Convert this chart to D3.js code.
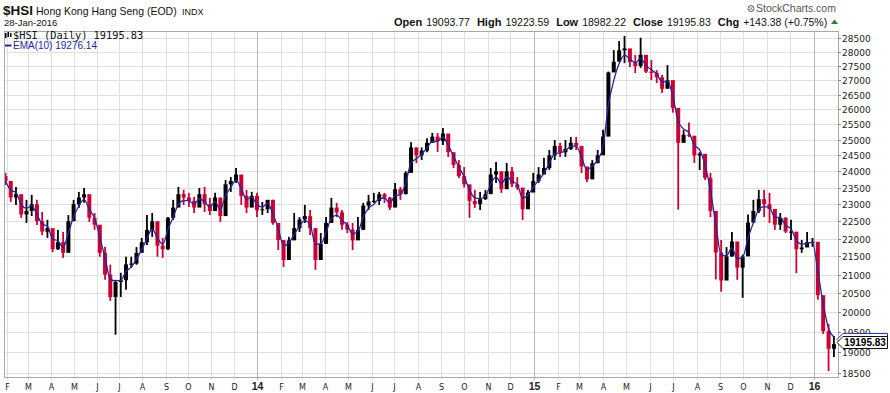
<!DOCTYPE html>
<html><head><meta charset="utf-8">
<script src="https://cdn.jsdelivr.net/npm/d3@7"></script>
<style>body{margin:0;background:#fff}svg{display:block}</style>
</head><body><svg id="c" width="890" height="393"></svg>
<script>
// ---------- DATA (weekly bars) ----------
const symbol = "$HSI";
const fullName = "Hong Kong Hang Seng (EOD)";
const exchange = "INDX";
const asOf = "28-Jan-2016";
const quote = {open: "19093.77", high: "19223.59", low: "18982.22", close: "19195.83", chg: "+143.38 (+0.75%)"};
const lastClose = 19195.83;
const emaLabel = "19276.14";
const emaLast = 19276.14;
const firstWeekMonday = "2013-01-28";
const firstOpen = 23850;

const highs = [
23950,23640,23520,23280,23130,23280,23130,22770,22540,22250,
22250,22190,22680,23130,23370,23490,23130,22740,22340,21770,
21270,20860,21050,21490,21490,21760,22020,22680,22740,22160,
22020,22620,23130,23520,23430,23340,23220,23490,23520,23190,
23340,23130,23730,23820,24100,23820,23430,23370,23340,23070,
23130,23130,22250,21760,22050,22740,22620,22980,22830,21900,
22160,22620,23190,23040,22830,22480,22450,22620,23040,23280,
23340,23370,23340,23220,23640,23520,24000,24920,24750,24750,
25050,25220,25220,25380,25090,24580,24350,24130,23430,23430,
23370,23430,24100,24290,23820,24260,24130,23820,23130,23430,
23950,24130,24420,24670,24990,24900,24990,25090,25090,24580,
24130,24350,24670,25320,27300,28070,28400,28590,27890,27890,
28520,27820,27710,27350,27180,27530,26480,26000,25320,25560,
24990,24600,24260,23950,22000,21960,21760,22190,21760,21550,
22700,23130,23430,23430,23340,22830,22740,22620,22540,22050,
21960,22190,22020,21770,20400,19700,19400];
const lows = [
23580,23070,22980,22600,22450,22650,22390,22100,22020,21620,
21680,21460,21820,22620,22890,23040,22480,22250,21490,20860,
20300,19430,20400,20590,21180,21270,21680,21820,22050,21490,
21460,21680,22540,22920,22980,22920,22740,22980,22770,22680,
22890,22480,22680,23370,23640,22980,22740,22980,22620,22680,
22740,22400,21680,21210,21490,22250,22190,22450,22100,21130,
21680,21960,22540,22620,22250,22160,21680,22050,22620,22830,
23040,22980,23040,22830,23130,23130,23300,24350,24260,24350,
24600,24900,24610,24830,24450,24100,23790,23500,22600,22890,
22830,23130,23640,23640,23340,23730,23520,23430,22540,23130,
23430,23640,23950,24040,24350,24450,24450,24670,24670,23950,
23670,23820,24260,24670,25200,27360,27800,27600,27460,27250,
27430,27250,27000,26900,26560,27000,25890,22840,24900,25090,
24260,24040,23730,22620,20870,20540,21400,21490,20860,20380,
21680,22540,22740,22620,22450,22250,22250,22160,21960,21040,
21600,21770,21770,20330,19450,18540,18880];
const closes = [
23700,23200,23300,22700,22800,23000,22500,22200,22300,21700,
21900,21600,22500,23000,23200,23300,22600,22400,21600,21000,
20400,20800,20850,21280,21300,21600,21900,22250,22500,21800,
21700,22600,22900,23300,23200,23100,22900,23300,23000,22800,
23200,22650,23600,23700,23900,23250,22900,23250,22820,22850,
23130,22450,21960,21400,21950,22300,22550,22650,22300,21400,
21850,22450,22900,22760,22400,22260,21950,22250,22960,23080,
23100,23300,23200,22900,23450,23300,23950,24750,24500,24650,
24900,25100,24950,25200,24600,24200,23850,23600,23100,23000,
23150,23300,23900,24000,23450,24000,23600,23500,22850,23350,
23700,23900,24100,24500,24800,24600,24700,24900,24800,24150,
23750,24250,24500,25100,27270,27650,28060,28130,27640,27500,
27900,27300,27250,27100,26700,27000,26050,24900,25160,25130,
24500,24550,23800,22800,21610,20840,21500,21920,21190,21500,
22460,22800,23150,23000,22860,22400,22600,22200,22200,21700,
21750,21900,21910,20450,19520,19080,19195.83];

const yTickValues = [18500,19000,19500,20000,20500,21000,21500,22000,22500,23000,23500,24000,24500,25000,25500,26000,26500,27000,27500,28000,28500];
const monthLabels = ["F","M","A","M","J","J","A","S","O","N","D",
  "14","F","M","A","M","J","J","A","S","O","N","D",
  "15","F","M","A","M","J","J","A","S","O","N","D","16"];
// a 10-day EMA expressed in weekly bars (~2.6 weeks)
const EMA_WEEKS = 2.6;

// ---------- LAYOUT ----------
const svg = d3.select("#c");
const L = 4, R = 838, T = 31, B = 377;
const red = "#cc0033", blue = "#26269e";

const pd = d3.timeParse("%Y-%m-%d");
const x = d3.scaleTime()
  .domain([pd("2013-01-28"), pd("2013-02-01"), pd("2014-01-01"), pd("2015-01-01"), pd("2016-01-01"), pd("2016-01-28")])
  .range([4, 7, 257, 534, 814, 834.7]);
const y = d3.scaleLog().domain([18500, 28500]).range([372.7, 38.3]);

const mondays = d3.timeMonday.range(pd(firstWeekMonday), pd("2016-01-29"));
const bars = closes.map((c, i) => ({
  date: d3.timeDay.offset(mondays[i], 2),
  high: highs[i], low: lows[i], close: c,
  open: i ? closes[i - 1] : firstOpen
}));
const alpha = 2 / (EMA_WEEKS + 1);
let e = null;
bars.forEach(b => { e = e === null ? b.close : e + alpha * (b.close - e); b.ema = e; });

// grid
const g = svg.append("g");
yTickValues.forEach(v => {
  const yy = Math.round(y(v)) + 0.5;
  g.append("line").attr("x1", L).attr("x2", R).attr("y1", yy).attr("y2", yy)
    .attr("stroke", "#e0e0e0");
});
const months = d3.timeMonth.range(pd("2013-02-01"), pd("2016-01-02"));
months.forEach((m, i) => {
  const xx = Math.round(x(m)) + 0.5;
  const isYear = m.getMonth() === 0;
  g.append("line").attr("x1", xx).attr("x2", xx).attr("y1", T).attr("y2", B + 3)
    .attr("stroke", isYear ? "#b4b4b4" : "#e0e0e0");
  g.append("text").attr("x", xx).attr("y", 390).attr("text-anchor", "middle")
    .attr("font-family", isYear ? "Liberation Sans, Arial" : "DejaVu Sans, Verdana")
    .attr("font-weight", isYear ? "bold" : "normal")
    .attr("font-size", isYear ? 10.5 : 8).attr("fill", "#222").text(monthLabels[i]);
});

// frame
svg.append("rect").attr("x", L + 0.5).attr("y", T + 0.5).attr("width", R - L).attr("height", B - T)
  .attr("fill", "none").attr("stroke", "#a8a8a8");

// y axis labels
yTickValues.forEach(v => {
  const yy = Math.round(y(v)) + 0.5;
  svg.append("line").attr("x1", R).attr("x2", R + 3).attr("y1", yy).attr("y2", yy).attr("stroke", "#888");
  svg.append("text").attr("x", R + 4).attr("y", yy + 3.5)
    .attr("font-family", "DejaVu Sans, Verdana").attr("font-size", 9).attr("fill", "#222").text(v);
});

// candles
svg.append("clipPath").attr("id", "clip").append("rect")
  .attr("x", L + 1).attr("y", T + 1).attr("width", R - L - 1).attr("height", B - T - 1);
const cg = svg.append("g").attr("clip-path", "url(#clip)");
bars.forEach(b => {
  const cx = x(b.date);
  const col = b.close >= b.open ? "#000" : red;
  cg.append("line").attr("x1", cx).attr("x2", cx).attr("y1", y(b.high)).attr("y2", y(b.low))
    .attr("stroke", col).attr("stroke-width", 1.8);
  const y1 = y(Math.max(b.open, b.close)), y2 = y(Math.min(b.open, b.close));
  cg.append("rect").attr("x", cx - 2).attr("width", 4)
    .attr("y", y1).attr("height", Math.max(1, y2 - y1)).attr("fill", col);
});
cg.append("path").datum(bars)
  .attr("d", d3.line().x(d => x(d.date)).y(d => y(d.ema)).curve(d3.curveMonotoneX))
  .attr("fill", "none").attr("stroke", blue).attr("stroke-width", 1.3);

// header
const hdr = svg.append("g").attr("font-family", "Liberation Sans, Arial");
hdr.append("text").attr("x", 3).attr("y", 15).attr("font-weight", "bold").attr("font-size", 13.5).attr("fill", "#111").text(symbol);
hdr.append("text").attr("x", 36).attr("y", 15).attr("font-size", 10.5).attr("fill", "#111").text(fullName);
hdr.append("text").attr("x", 182).attr("y", 15).attr("font-size", 9).attr("fill", "#111").text(exchange);
hdr.append("text").attr("x", 4).attr("y", 26).attr("font-size", 9.5).attr("fill", "#111").text(asOf);

// quote line
const pieces = [["Open", 1], [quote.open, 0], ["High", 1], [quote.high, 0], ["Low", 1], [quote.low, 0],
  ["Close", 1], [quote.close, 0], ["Chg", 1], [quote.chg, 0]];
let qx = 394;
pieces.forEach(([t, bold]) => {
  const el = hdr.append("text").attr("x", qx).attr("y", 26)
    .attr("font-size", bold ? 11 : 10.5).attr("font-weight", bold ? "bold" : "normal").attr("fill", "#111").text(t);
  qx += el.node().getComputedTextLength() + (bold ? 4 : 7);
});
svg.append("path").attr("d", "M831,24 L838,24 L834.5,19.5 Z").attr("fill", "#2e7d32");

// logo
svg.append("circle").attr("cx", 751).attr("cy", 8.5).attr("r", 3).attr("fill", "none").attr("stroke", "#666").attr("stroke-width", 1);
svg.append("path").attr("d", "M749,6.5 L753,10.5 M753,6.5 L749,10.5").attr("stroke", "#666").attr("stroke-width", 0.8);
hdr.append("text").attr("x", 756).attr("y", 12).attr("font-size", 10.5).attr("fill", "#555").text("StockCharts.com");

// legend inside chart
svg.append("rect").attr("x", 5).attr("y", 33).attr("width", 1.5).attr("height", 5).attr("fill", "#000");
svg.append("rect").attr("x", 7.5).attr("y", 32).attr("width", 1.5).attr("height", 5).attr("fill", "#000");
svg.append("rect").attr("x", 10).attr("y", 33).attr("width", 1.5).attr("height", 4).attr("fill", "#000");
svg.append("text").attr("x", 13).attr("y", 38.5).attr("font-family", "DejaVu Sans Mono, monospace")
  .attr("font-size", 10.3).attr("fill", "#111").text(symbol + " (Daily) " + lastClose.toFixed(2));
svg.append("line").attr("x1", 5).attr("x2", 11.5).attr("y1", 45.5).attr("y2", 45.5).attr("stroke", blue).attr("stroke-width", 2);
svg.append("text").attr("x", 13).attr("y", 49).attr("font-family", "Liberation Sans, Arial")
  .attr("font-size", 10).attr("fill", blue).text("EMA(10) " + emaLabel);

// price tags
const ey = y(emaLast) - 1.5, cyy = 342.5;
svg.append("path").attr("d", `M837,${ey} L843,${ey - 6} L887.5,${ey - 6} L887.5,${ey + 6} L843,${ey + 6} Z`)
  .attr("fill", "#fff").attr("stroke", blue);
svg.append("path").attr("d", `M837,${cyy} L843,${cyy - 6} L887.5,${cyy - 6} L887.5,${cyy + 6} L843,${cyy + 6} Z`)
  .attr("fill", "#fff").attr("stroke", "#111");
svg.append("text").attr("x", 865).attr("y", cyy + 3.4).attr("text-anchor", "middle")
  .attr("font-family", "Liberation Sans, Arial").attr("font-weight", "bold").attr("font-size", 10)
  .attr("fill", "#000").text(lastClose.toFixed(2));
</script></body></html>
